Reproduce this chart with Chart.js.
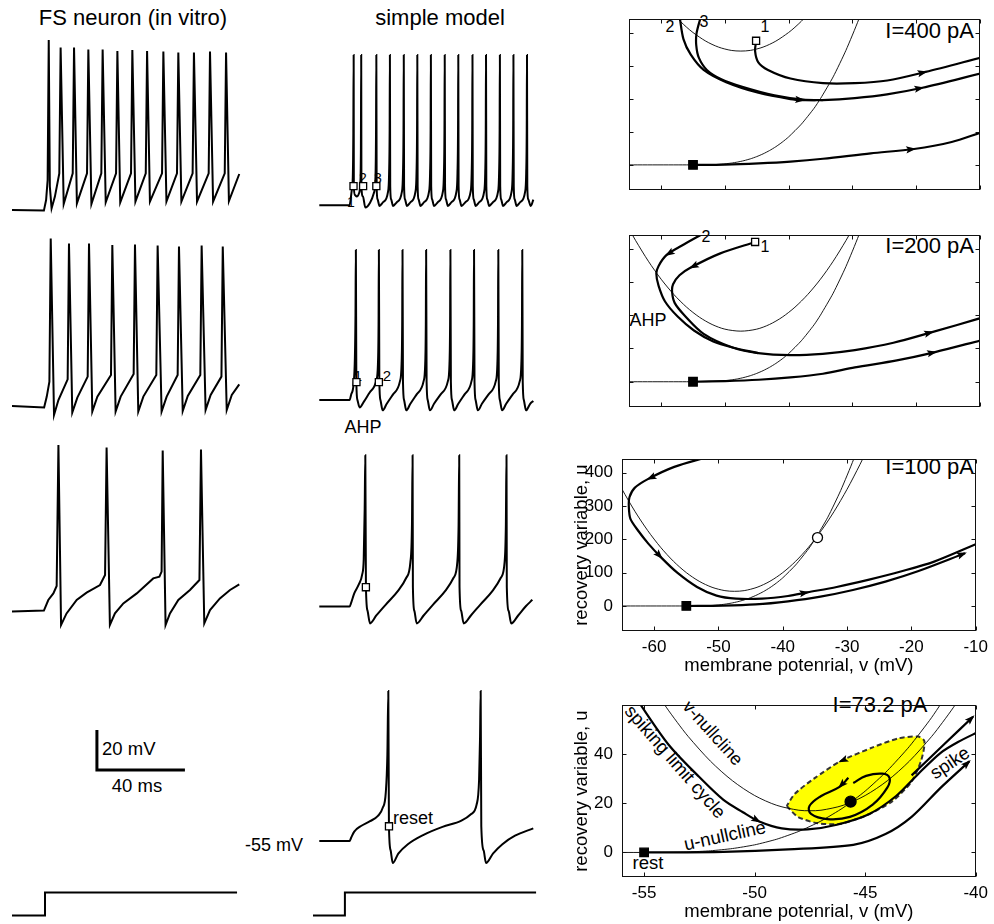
<!DOCTYPE html>
<html><head><meta charset="utf-8">
<script src="https://cdn.jsdelivr.net/npm/chart.js@4/dist/chart.umd.min.js"></script>
<style>
html,body{margin:0;padding:0;background:#fff;}
#fig{position:relative;width:994px;height:924px;overflow:hidden;font-family:'Liberation Sans',Arial,Helvetica,sans-serif;color:#000;}
#fig canvas{position:absolute;}
.t{position:absolute;white-space:nowrap;line-height:1;transform:translate(-50%,-50%);}
.r{transform:translate(-100%,-50%);}
.l{transform:translate(0,-50%);}
</style></head><body><div id="fig">
<div class="t" style="left:133px;top:18px;font-size:22px">FS neuron (in vitro)</div>
<div class="t" style="left:440px;top:18px;font-size:22px">simple model</div>
<div class="t r" style="left:974px;top:31px;font-size:22px">I=400 pA</div>
<div class="t r" style="left:974px;top:246px;font-size:22px">I=200 pA</div>
<div class="t r" style="left:974px;top:467px;font-size:22px">I=100 pA</div>
<div class="t" style="left:880px;top:705px;font-size:22px">I=73.2 pA</div>
<div class="t" style="left:670px;top:27px;font-size:16px">2</div>
<div class="t" style="left:704px;top:22px;font-size:16px">3</div>
<div class="t" style="left:765px;top:27px;font-size:16px">1</div>
<div class="t" style="left:706px;top:237px;font-size:16px">2</div>
<div class="t" style="left:765px;top:247px;font-size:16px">1</div>
<div class="t" style="left:648px;top:320px;font-size:18px">AHP</div>
<div class="t" style="left:351px;top:202px;font-size:14px">1</div>
<div class="t" style="left:363px;top:178px;font-size:14px">2</div>
<div class="t" style="left:378px;top:178px;font-size:14px">3</div>
<div class="t" style="left:358px;top:375px;font-size:15px">1</div>
<div class="t" style="left:387px;top:375px;font-size:15px">2</div>
<div class="t" style="left:363px;top:427px;font-size:18px">AHP</div>
<div class="t l" style="left:393px;top:818px;font-size:18px">reset</div>
<div class="t r" style="left:303px;top:845px;font-size:18px">-55 mV</div>
<div class="t l" style="left:102px;top:749px;font-size:18.5px">20 mV</div>
<div class="t" style="left:137px;top:786px;font-size:18.5px">40 ms</div>
<div class="t" style="left:713px;top:733px;font-size:18px;transform:translate(-50%,-50%) rotate(48deg)">v-nullcline</div>
<div class="t" style="left:675px;top:762px;font-size:18.5px;transform:translate(-50%,-50%) rotate(49deg)">spiking limit cycle</div>
<div class="t" style="left:725px;top:836px;font-size:18.5px;transform:translate(-50%,-50%) rotate(-12.4deg)">u-nullcline</div>
<div class="t" style="left:950px;top:763px;font-size:18.5px;transform:translate(-50%,-50%) rotate(-33.7deg)">spike</div>
<div class="t" style="left:648px;top:863px;font-size:18.5px">rest</div>
</div>
<script>
// ---------------- DATA ----------------
// voltage traces: [time (ms), membrane potential (mV)]
const vitroTrace400 = [
[0,-55.5],[14.5,-55.8],[15.5,-50.5],[16.2,-40.5],[16.7,29.5],[17.2,-43.8],[18.0,-54.7],
[19.5,-48.8],[21.5,-37.2],[22.1,25.7],[23.5,-52.5],
[27.6,-37.2],[28.2,25.7],[29.5,-52.2],
[34.1,-37.2],[34.7,24.8],[36.1,-52.5],
[40.6,-37.2],[41.2,24.8],[42.6,-51.7],
[47.3,-37.2],[47.9,24.0],[49.2,-51.7],
[54.1,-37.2],[54.7,24.5],[56.1,-51.3],
[60.8,-37.2],[61.4,24.0],[62.7,-51.3],
[68.2,-37.2],[68.8,23.7],[70.2,-51.3],
[75.0,-37.2],[75.6,23.3],[77.0,-51.3],
[82.1,-37.2],[82.7,23.3],[84.1,-51.3],
[89.4,-37.2],[90.0,23.7],[91.4,-51.3],
[96.7,-37.2],[97.3,23.3],[98.6,-51.0],
[103.3,-37.5]];
const vitroTrace200 = [
[0,-56.0],[14.6,-56.7],[15.8,-51.3],[17.0,-43.8],[17.6,27.8],[19.1,-60.5],
[21.1,-53.0],[25.3,-42.7],[25.9,25.3],[27.4,-59.3],
[29.7,-51.8],[34.4,-41.3],[35.0,25.3],[36.5,-58.8],
[38.8,-51.3],[45.0,-40.5],[45.6,24.5],[47.1,-58.8],
[49.4,-51.3],[55.3,-40.0],[55.9,24.8],[57.4,-58.8],
[59.7,-51.3],[65.6,-40.5],[66.2,24.2],[68.0,-58.8],
[70.3,-51.3],[75.3,-40.5],[75.9,23.7],[77.6,-58.5],
[79.9,-51.0],[85.6,-40.5],[86.2,24.2],[88.0,-58.0],
[90.3,-50.5],[95.2,-41.3],[95.8,23.7],[97.6,-58.0],
[99.9,-50.5],[103.3,-45.2]];
const vitroTrace100 = [
[0,-55.3],[14.5,-54.8],[16.5,-49.5],[18.8,-46.2],[20.3,-42.5],[21.1,28.0],[22.3,-62.0],
[24.8,-56.2],[29.4,-49.5],[33.9,-45.8],[40.0,-42.0],[42.3,-37.0],[43.0,26.8],[44.5,-62.0],
[46.8,-56.2],[50.6,-51.2],[56.7,-46.2],[64.2,-38.7],[67.0,-37.8],[68.0,-35.3],[68.5,25.2],[69.8,-62.0],
[71.8,-56.2],[75.6,-49.5],[80.9,-44.5],[85.2,-39.5],[85.9,25.8],[87.4,-61.2],
[90.0,-54.5],[94.5,-48.7],[99.1,-44.5],[103.3,-41.7]];
const modelTrace400 = [
[0,-55.2],[14.5,-55.2],[15.6,-47.2],[16.1,-40.5],[16.36,-17],[16.52,24.5],
[16.6,-45.2],[17.1,-49.7],[18.0,-50.5],[19.1,-48.8],[19.7,-43.8],[20.0,-25.5],[20.15,24.5],
[20.25,-45.2],[21.0,-50.5],[22.1,-56.3],[24.4,-53.8],[26.2,-48.8],[27.0,-40.5],[27.27,-17.2],[27.42,24.5],
[27.57,-45],[28.03,-52],[28.94,-55.5],[30.68,-53.5],[33.03,-48],[33.56,-38],[33.82,-15],[33.94,24.5],
[34.09,-45],[34.55,-52],[35.46,-55.5],[37.28,-53.5],[39.7,-48],[40.23,-38],[40.49,-15],[40.61,24.5],
[40.76,-45],[41.22,-52],[42.13,-55.5],[43.87,-53.5],[46.21,-48],[46.74,-38],[47.0,-15],[47.12,24.5],
[47.27,-45],[47.73,-52],[48.64,-55.5],[50.38,-53.5],[52.73,-48],[53.26,-38],[53.52,-15],[53.64,24.5],
[53.79,-45],[54.25,-52],[55.16,-55.5],[56.97,-53.5],[59.39,-48],[59.92,-38],[60.18,-15],[60.3,24.5],
[60.45,-45],[60.91,-52],[61.82,-55.5],[63.56,-53.5],[65.91,-48],[66.44,-38],[66.7,-15],[66.82,24.5],
[66.97,-45],[67.43,-52],[68.34,-55.5],[70.23,-53.5],[72.73,-48],[73.26,-38],[73.52,-15],[73.64,24.5],
[73.79,-45],[74.25,-52],[75.16,-55.5],[76.9,-53.5],[79.24,-48],[79.77,-38],[80.03,-15],[80.15,24.5],
[80.3,-45],[80.76,-52],[81.67,-55.5],[83.49,-53.5],[85.91,-48],[86.44,-38],[86.7,-15],[86.82,24.5],
[86.97,-45],[87.43,-52],[88.34,-55.5],[90.08,-53.5],[92.42,-48],[92.95,-38],[93.21,-15],[93.33,24.5],
[93.48,-45],[93.94,-52],[94.85,-55.5],[96.59,-53.5],[98.94,-48],[99.47,-38],[99.73,-15],[99.85,24.5],
[100.0,-45],[100.46,-52],[101.67,-55.5],[102.9,-52.2]];
const modelTrace200 = [
[0,-55],[14.55,-55],[15.3,-52.2],[16.5,-46.3],[17.1,-33],[17.4,-10],[17.58,24.5],
[17.81,-45.5],[18.34,-55],[19.4,-59],[21.37,-56],[24.22,-51],[27.43,-44.5],[28.19,-36],[28.49,-15],[28.64,24.5],
[28.87,-45.5],[29.4,-55],[30.46,-60.5],[32.43,-57],[35.46,-52],[38.79,-45],[39.55,-36],[39.85,-15],[40.0,24.5],
[40.23,-45.5],[40.76,-55],[41.82,-60.5],[43.79,-57],[46.82,-52],[50.15,-45],[50.91,-36],[51.21,-15],[51.36,24.5],
[51.59,-45.5],[52.12,-55],[53.18,-60.5],[55.15,-57],[58.36,-52],[61.82,-45],[62.58,-36],[62.88,-15],[63.03,24.5],
[63.26,-45.5],[63.79,-55],[64.85,-60.5],[66.82,-57],[69.85,-52],[73.18,-45],[73.94,-36],[74.24,-15],[74.39,24.5],
[74.62,-45.5],[75.15,-55],[76.21,-60.5],[78.18,-57],[81.39,-52],[84.85,-45],[85.61,-36],[85.91,-15],[86.06,24.5],
[86.29,-45.5],[86.82,-55],[87.88,-60.5],[89.85,-57],[92.97,-52],[96.37,-45],[97.13,-36],[97.43,-15],[97.58,24.5],
[97.81,-45.5],[98.34,-55],[99.4,-60.5],[101.37,-57],[102.9,-55.5]];
const modelTrace100 = [
[0,-54.8],[14.55,-54.8],[15.3,-52.8],[16.8,-47.8],[19.1,-42.8],[20.6,-37.8],[21.36,-29.5],[21.82,-2.8],[22.12,25.5],
[22.42,-44.5],[23.2,-57],[24.39,-63.7],[27.42,-59.5],[31.97,-53.7],[38.03,-46.2],[41.82,-39.5],[43.79,-31.2],[44.55,-11.2],[44.85,25.5],
[45.0,-44.5],[45.7,-57],[46.82,-63.7],[50.15,-59.5],[54.7,-53.7],[60.76,-46.2],[64.55,-39.5],[66.36,-31.2],[66.97,-11.2],[67.27,25.5],
[67.42,-44.5],[68.2,-57],[69.39,-63.7],[72.88,-59.5],[77.42,-53.7],[83.48,-46.2],[87.27,-39.5],[89.09,-31.2],[89.7,-11.2],[90.0,25.5],
[90.15,-44.5],[91.0,-57],[92.27,-63.7],[95.61,-59.5],[99.39,-54.5],[102.42,-51.2]];
const modelTrace73 = [
[0,-55],[14.55,-55],[15.3,-53.3],[16.8,-50],[19.85,-47.2],[24.39,-44.5],[28.18,-41.7],[30.45,-37.5],[31.97,-29.2],[32.73,-9.2],[33.18,24.5],
[33.48,-47.2],[34.3,-60],[35.3,-66.7],[37.97,-61.7],[42.58,-56.7],[50.15,-51.7],[59.24,-47.5],[68.33,-44.2],[72.88,-40.8],[75.61,-35.8],[76.82,-22.5],[77.27,-0.8],[77.58,24.5],
[77.88,-47.2],[79.0,-60],[80.15,-66.7],[83.48,-61.7],[88.03,-56.7],[94.09,-52.2],[102.88,-48.3]];
// reset markers (open squares) on the model traces
const resets400 = [[16.45,-45],[21.06,-45],[27.42,-45]];
const resets200 = [[17.86,-45.5],[28.64,-45.5]];
const resets100 = [[22.4,-44.5]];
const resets73 = [[33.5,-47.2]];
// injected current step (relative units) and scale bar (ms, mV)
const stepVitro = [[0,0],[15,0],[15,1],[102.3,1]];
const stepModel = [[0,0],[14.5,0],[14.5,1],[101.4,1]];
const scaleBar = [[38.6,2.5],[38.6,-17.5],[78.6,-17.5]];

// phase plane: [v (mV), u]
const uNullcline = [[-66,0],[-55,0],[-54,0.03],[-53,0.2],[-52,0.68],[-51,1.6],[-50,3.1],[-49,5.4],[-48,8.6],[-47,12.8],[-46,18.2],[-45,25],[-44,33.3],[-43,43.2],[-42,54.9],[-41,68.6],[-40,84.4],[-38,123],[-36,171],[-35,200],[-33,266],[-31,346],[-29,439],[-27,549]];
const vNull400 = [[-58,454],[-57,434],[-56,416],[-55,400],[-53,374],[-51,356],[-49,346],[-47.5,344],[-46,346],[-44,356],[-42,374],[-40,400],[-39,416],[-38,434],[-37,454]];
const vNull200 = [[-65,458],[-64,424],[-62,362],[-60,308],[-58,262],[-56,224],[-54,194],[-52,172],[-50,158],[-47.5,152],[-45,158],[-43,172],[-41,194],[-39,224],[-37,262],[-35,308],[-33,362],[-31,424],[-30,458]];
const vNull100 = [[-66,386],[-65,350],[-63,284],[-61,226],[-59,176],[-57,134],[-55,100],[-53,74],[-51,56],[-49,46],[-47.5,44],[-46,46],[-44,56],[-42,74],[-40,100],[-38,134],[-36,176],[-34,226],[-32,284],[-30,350],[-28,424],[-27,464]];
const vNull73 = [[-54.5,66],[-54,59.2],[-53.5,53],[-53,47.2],[-52,37.2],[-51,29.2],[-50,23.2],[-49,19.2],[-48,17.2],[-47.5,17],[-47,17.2],[-46,19.2],[-45,23.2],[-44,29.2],[-43,37.2],[-42,47.2],[-41.5,53],[-41,59.2],[-40.5,66]];
const trajA0 = [[-55,0],[-50,0.8],[-44.7,4.6],[-39.7,10],[-34.6,18.5],[-27.1,35],[-20.3,48],[-14.4,69],[-9.9,97]];
const trajA1 = [[-45.1,375],[-45.25,343],[-44.75,310],[-43.23,287],[-39.7,261],[-34.6,247],[-29.6,247],[-24.5,255],[-18.5,281],[-9.9,324]];
const trajA2 = [[-57.1,448],[-56.5,380],[-55.35,333],[-53.33,287],[-49.8,250],[-44.75,218],[-39.7,199],[-37.7,196],[-34.65,196],[-29.6,202],[-24.55,213],[-19.0,233],[-9.9,276]];
const trajA3 = [[-53.74,450],[-54.44,398],[-54.49,361],[-54.09,324],[-52.83,287],[-50.56,259],[-47.27,236],[-42.22,210],[-37.68,197],[-34.65,196]];
const trajB0 = [[-55,0],[-50,2],[-44.7,6],[-39.7,13],[-34.6,24],[-29.6,43],[-23.0,64],[-17.0,89],[-9.9,124]];
const trajB1 = [[-45.25,420],[-50.81,385],[-55.35,343],[-57.12,320],[-58.13,293],[-58.28,269],[-57.88,237],[-56.36,200],[-53.33,144],[-48.79,103],[-44.75,86],[-39.7,80],[-34.65,84],[-29.6,95],[-23.54,117],[-17.47,149],[-9.9,191]];
const trajB2 = [[-53.33,446],[-56.87,408],[-59.14,381],[-60.4,348],[-60.76,325],[-60.4,288],[-59.39,241],[-57.37,195],[-54.85,154],[-51.82,121],[-48.79,103],[-44.75,86]];
const trajC0 = [[-55,0],[-49.3,1],[-44.24,4.6],[-39.19,14],[-34.14,28],[-29.09,48],[-24.04,73],[-19,104],[-11.67,158]];
const trajC1 = [[-51.82,446],[-56.87,417],[-60.91,381],[-63.03,354],[-63.84,326],[-63.94,298],[-63.69,261],[-62.42,224],[-60.91,187],[-58.89,145],[-56.36,99],[-53.33,57],[-50.3,31],[-47.27,22],[-43.23,22],[-39.19,30],[-36.16,41],[-31.62,57],[-26.57,79],[-21.52,104],[-16.46,133],[-10,185]];
const limitCycle = [[-55.3,62],[-53.9,44],[-52.58,31.4],[-51.41,21.4],[-50.53,16.4],[-49.79,12.6],[-48.77,9.8],[-47.6,9.4],[-46.28,11.3],[-44.81,15.7],[-43.6,23],[-42.6,32],[-41.6,40.5],[-40.8,45],[-39.8,49.5]];
const restToSpike = [[-55,0],[-51.41,0.25],[-48.48,1.26],[-45.54,3.1],[-44.08,7.5],[-42.9,14.5],[-41.58,26.4],[-40.29,37.1]];
const escapeTraj = [[-42.9,31.4],[-41.44,44],[-40.12,55.3]];
const spiralTraj = [[-45.76,30.4],[-46.16,26.7],[-47.01,22.9],[-47.52,18.9],[-47.45,15.7],[-46.72,13.6],[-45.69,14.5],[-44.66,19.5],[-44.0,26.4],[-43.9,30.4],[-44.22,32.1],[-44.96,31.2],[-45.54,28.3]];
const unstableCycle = [[-48.55,18.9],[-48.04,14.5],[-47.16,11.9],[-46.13,11.7],[-44.96,15.1],[-43.78,20.8],[-42.9,28.9],[-42.46,37.7],[-42.32,45.3],[-42.61,47.2],[-43.49,46.5],[-44.66,42.8],[-46.13,37.1],[-47.3,30.2],[-48.18,23.9],[-48.55,18.9]];
const restPoint = [[-55,0]];
const startA = [[-45.1,375]];
const startB = [[-45.25,420]];
const unstableNode = [[-34.6,205]];
const stableFocus = [[-45.66,20.7]];
// axis ticks
const vTicksWide = [-60,-50,-40,-30,-20,-10];
const uTicksWide = [0,100,200,300,400];
const vTicksD = [-55,-50,-45,-40];
const uTicksD = [0,20,40];

// ---------------- DRAWING ----------------
Chart.defaults.font.family = "'Liberation Sans', Arial, Helvetica, sans-serif";
Chart.defaults.color = '#000';
const fig = document.getElementById('fig');
function mkCanvas(left, top, w, h) {
  const c = document.createElement('canvas');
  c.width = w; c.height = h;
  c.style.left = left + 'px'; c.style.top = top + 'px';
  c.style.width = w + 'px'; c.style.height = h + 'px';
  fig.appendChild(c);
  return c;
}
const common = {responsive:false, maintainAspectRatio:false, animation:false, devicePixelRatio:1, events:[],
  plugins:{legend:{display:false}, tooltip:{enabled:false}}};
function line(data, w, extra) {
  return Object.assign({data, borderColor:'#000', borderWidth:w, pointRadius:0, fill:false, tension:0}, extra || {});
}
function marks(data, style, r, bg) {
  return {data, showLine:false, pointStyle:style, pointRadius:r, pointBackgroundColor:bg,
    pointBorderColor:'#000', pointBorderWidth:1.3, clip:false};
}
function traceChart(left, top, datasets) {
  new Chart(mkCanvas(left, top, 231, 220), {type:'line', data:{datasets},
    options:Object.assign({}, common, {layout:{padding:0},
      scales:{x:{type:'linear', min:0, max:105, display:false}, y:{type:'linear', min:-75, max:35, display:false}}})});
}
function stepChart(left, data) {
  new Chart(mkCanvas(left, 881, 231, 46), {type:'line', data:{datasets:[line(data, 2, {clip:false})]},
    options:Object.assign({}, common, {layout:{padding:0},
      scales:{x:{type:'linear', min:0, max:105, display:false}, y:{type:'linear', min:-0.5, max:1.5, display:false}}})});
}
function boxPlugin(xt, yt) {
  return {id:'box', afterDraw(chart) {
    const {ctx, chartArea:a, scales:{x, y}} = chart;
    ctx.save(); ctx.strokeStyle = '#111'; ctx.lineWidth = 1;
    const L = Math.round(a.left) + 0.5, T = Math.round(a.top) + 0.5, R = Math.round(a.right) - 0.5, B = Math.round(a.bottom) - 0.5;
    ctx.strokeRect(L, T, R - L, B - T);
    ctx.beginPath();
    xt.forEach(v => { const px = Math.round(x.getPixelForValue(v)) + 0.5;
      ctx.moveTo(px, B); ctx.lineTo(px, B - 4); ctx.moveTo(px, T); ctx.lineTo(px, T + 4); });
    yt.forEach(v => { const py = Math.round(y.getPixelForValue(v)) + 0.5;
      ctx.moveTo(L, py); ctx.lineTo(L + 4, py); ctx.moveTo(R, py); ctx.lineTo(R - 4, py); });
    ctx.stroke(); ctx.restore();
  }};
}
const arrowPlugin = {id:'arrows', afterDatasetsDraw(chart) {
  const ctx = chart.ctx;
  chart.data.datasets.forEach((ds, i) => {
    if (!ds.arrowAt) return;
    const pts = chart.getDatasetMeta(i).data;
    ds.arrowAt.forEach(k => {
      const p = pts[k], q = pts[k - 1];
      const ang = Math.atan2(p.y - q.y, p.x - q.x);
      ctx.save(); ctx.translate(p.x, p.y); ctx.rotate(ang);
      ctx.beginPath(); ctx.moveTo(2, 0); ctx.lineTo(-8, -3.6); ctx.lineTo(-6, 0); ctx.lineTo(-8, 3.6); ctx.closePath();
      ctx.fillStyle = '#000'; ctx.fill(); ctx.restore();
    });
  });
}};
function phaseChart(c) {
  const sx = {type:'linear', min:c.xr[0], max:c.xr[1]};
  const sy = {type:'linear', min:c.yr[0], max:c.yr[1]};
  if (!c.axes) { sx.display = false; sy.display = false; }
  else {
    Object.assign(sx, {grid:{display:false, drawTicks:false}, border:{display:false},
      ticks:{font:{size:17}, padding:6, color:'#000', maxRotation:0},
      afterBuildTicks: s => { s.ticks = c.xt.map(v => ({value:v})); },
      afterFit: s => { s.height = c.xH; },
      title:{display:true, text:'membrane potenrial, v (mV)', font:{size:18.5}, padding:{top:0, bottom:0}, color:'#000'}});
    Object.assign(sy, {grid:{display:false, drawTicks:false}, border:{display:false},
      ticks:{font:{size:17}, padding:9, color:'#000'},
      afterBuildTicks: s => { s.ticks = c.yt.map(v => ({value:v})); },
      afterFit: s => { s.width = c.yW; },
      title:{display:true, text:'recovery variable, u', font:{size:18.5}, padding:{top:11, bottom:0}, color:'#000'}});
  }
  new Chart(mkCanvas(c.left, c.top, c.w, c.h), {type:'line', data:{datasets:c.datasets},
    options:Object.assign({}, common, {layout:{padding:c.pad || 0}, scales:{x:sx, y:sy}}),
    plugins:[boxPlugin(c.xt, c.yt), arrowPlugin]});
}
const THICK = 2.2, THIN = 0.9;

// left column: in vitro recordings
traceChart(12, 29, [line(vitroTrace400, 2, {clip:false})]);
traceChart(12, 224, [line(vitroTrace200, 2, {clip:false})]);
traceChart(12, 431, [line(vitroTrace100, 2, {clip:false})]);
traceChart(12, 665, [line(scaleBar, 3, {clip:false, borderJoinStyle:'miter', borderCapStyle:'butt'})]);
stepChart(12, stepVitro);
// middle column: simple model
const mono = {clip:false, cubicInterpolationMode:'monotone'};
traceChart(313, 29, [marks(resets400, 'rect', 5, '#fff'), line(modelTrace400, 2, mono)]);
traceChart(313, 224, [marks(resets200, 'rect', 5, '#fff'), line(modelTrace200, 2, mono)]);
traceChart(313, 431, [marks(resets100, 'rect', 5, '#fff'), line(modelTrace100, 2, mono)]);
traceChart(313, 665, [marks(resets73, 'rect', 5, '#fff'), line(modelTrace73, 2, mono)]);
stepChart(313, stepModel);

// right column: phase portraits
const sm = {tension:0.3};
phaseChart({left:622, top:12, w:365, h:185, xr:[-65,-10], yr:[-75,440], xt:vTicksWide, yt:uTicksWide, axes:false,
  datasets:[
    marks(restPoint, 'rect', 6, '#000'), marks(startA, 'rect', 5, '#fff'),
    line(trajA0, THICK, Object.assign({arrowAt:[6]}, sm)),
    line(trajA1, THICK, Object.assign({arrowAt:[8]}, sm)),
    line(trajA2, THICK, Object.assign({arrowAt:[7, 11]}, sm)),
    line(trajA3, THICK, sm),
    line(vNull400, THIN, sm), line(uNullcline, THIN, {tension:0.2})]});
phaseChart({left:622, top:228, w:365, h:186, xr:[-65,-10], yr:[-75,440], xt:vTicksWide, yt:uTicksWide, axes:false,
  datasets:[
    marks(restPoint, 'rect', 6, '#000'), marks(startB, 'rect', 5, '#fff'),
    line(trajB0, THICK, Object.assign({arrowAt:[7]}, sm)),
    line(trajB1, THICK, Object.assign({arrowAt:[2, 15]}, sm)),
    line(trajB2, THICK, Object.assign({arrowAt:[2]}, sm)),
    line(vNull200, THIN, sm), line(uNullcline, THIN, {tension:0.2})]});
phaseChart({left:560, top:440, w:434, h:237, xr:[-65,-10], yr:[-75,440], xt:vTicksWide, yt:uTicksWide, axes:true,
  pad:{top:5, right:8, left:0, bottom:0}, yW:62, xH:46,
  datasets:[
    marks(restPoint, 'rect', 6, '#000'), marks(unstableNode, 'circle', 5, '#fff'),
    line(trajC0, THICK, Object.assign({arrowAt:[8]}, sm)),
    line(trajC1, THICK, Object.assign({arrowAt:[2, 9, 16]}, sm)),
    line(vNull100, THIN, sm), line(uNullcline, THIN, {tension:0.2})]});
phaseChart({left:560, top:686, w:434, h:237, xr:[-56,-40], yr:[-10,60], xt:vTicksD, yt:uTicksD, axes:true,
  pad:{top:5, right:8, left:0, bottom:0}, yW:62, xH:46,
  datasets:[
    marks(restPoint, 'rect', 6, '#000'), marks(stableFocus, 'circle', 5.5, '#000'),
    line(limitCycle, THICK, Object.assign({arrowAt:[5]}, sm)),
    line(restToSpike, THICK, Object.assign({arrowAt:[7]}, sm)),
    line(escapeTraj, THICK, Object.assign({arrowAt:[2]}, sm)),
    line(spiralTraj, THICK, Object.assign({arrowAt:[1]}, {tension:0.4})),
    line(vNull73, THIN, sm), line(uNullcline, THIN, {tension:0.2}),
    line(unstableCycle, 2, {tension:0.25, fill:'shape', backgroundColor:'#ffff00', borderColor:'#333', borderDash:[5,3], arrowAt:[12]})]});
</script></body></html>
